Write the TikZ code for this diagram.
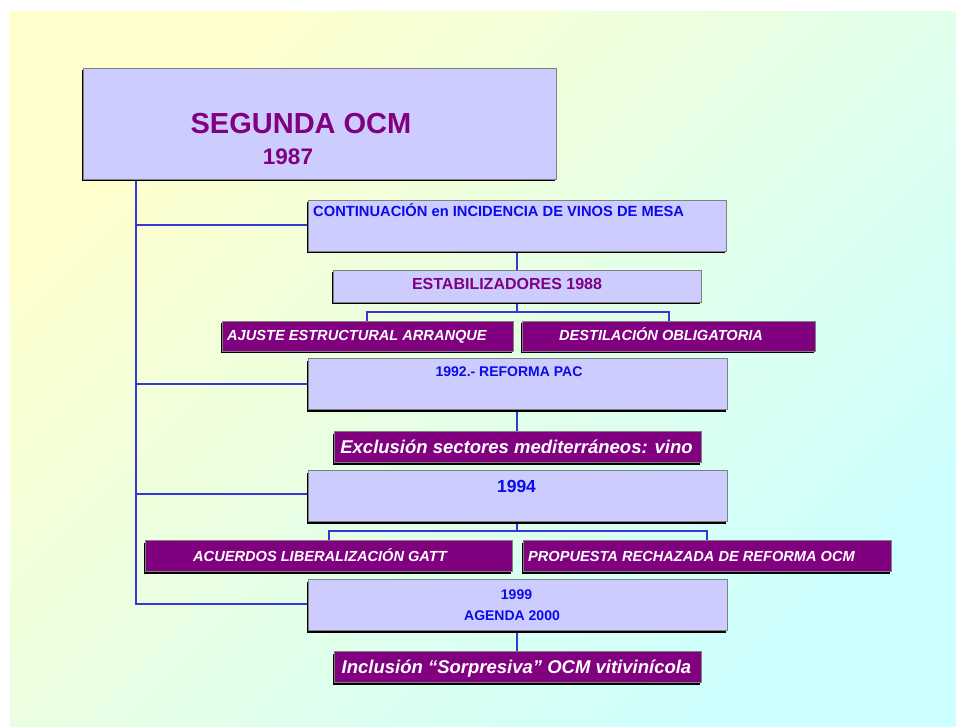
\documentclass[tikz,border=0pt]{standalone}
\usepackage{fontspec}
\setmainfont{Liberation Sans}
\usetikzlibrary{positioning, shadows}

\definecolor{lavbox}{RGB}{204,204,255}
\definecolor{ocmpurple}{RGB}{128,0,128}
\definecolor{ocmblue}{RGB}{10,10,235}
\definecolor{linkblue}{RGB}{55,55,215}
\definecolor{bgyellow}{RGB}{255,255,204}
\definecolor{bgcyan}{RGB}{204,255,255}

\tikzset{
  box/.style={draw=gray, line width=1pt, fill=lavbox, anchor=north west, inner sep=0pt,
    drop shadow={shadow xshift=-2pt, shadow yshift=-2pt, opacity=1, fill=black}},
  pbox/.style={box, fill=ocmpurple},
  link/.style={draw=linkblue, line width=1.4pt},
  bluetxt/.style={text=ocmblue, font=\bfseries\fontsize{14}{16}\selectfont, inner sep=0pt},
  purptxt/.style={text=ocmpurple, font=\bfseries\fontsize{16}{18}\selectfont, inner sep=0pt},
  whitetxt/.style={text=white, font=\bfseries\itshape\fontsize{14.6}{16}\selectfont, inner sep=0pt},
  bigwhite/.style={text=white, font=\bfseries\itshape\fontsize{18.5}{20}\selectfont, inner sep=0pt}
}

\begin{document}
\begin{tikzpicture}[x=1pt, y=-1pt]
  \useasboundingbox (0,0) rectangle (956,727);
  % background
  \shade[top color=bgyellow, bottom color=bgcyan, shading angle=45]
    (10,12) rectangle (956,727);

  % connectors
  \coordinate (trunk) at (136,179);
  \draw[link] (trunk) |- (308,225);
  \draw[link] (trunk) |- (308,384);
  \draw[link] (trunk) |- (308,494);
  \draw[link] (trunk) |- (308,604);
  \draw[link] (517,251) -- (517,270);
  \draw[link] (517,302) -- (517,312) coordinate (fork1) -| (367,321);
  \draw[link] (fork1) -| (669,321);
  \draw[link] (517,409) -- (517,431);
  \draw[link] (517,521) -- (517,531) coordinate (fork2) -| (329,540);
  \draw[link] (fork2) -| (707,540);
  \draw[link] (517,630) -- (517,651);

  % boxes
  \node[box, minimum width=473pt, minimum height=111pt] (main) at (83,68) {};
  \node[box, minimum width=418pt, minimum height=51pt] (cont) at (308,200) {};
  \node[box, minimum width=368pt, minimum height=32pt] (estab) at (333,270) {};
  \node[pbox, minimum width=291pt, minimum height=30pt] (ajuste) at (222,321) {};
  \node[pbox, minimum width=293pt, minimum height=30pt] (destil) at (522,321) {};
  \node[box, minimum width=419pt, minimum height=51pt] (reforma) at (308,358) {};
  \node[pbox, minimum width=367pt, minimum height=31pt] (exclu) at (334,431) {};
  \node[box, minimum width=419pt, minimum height=51pt] (y94) at (308,470) {};
  \node[pbox, minimum width=367pt, minimum height=31pt] (acuerdos) at (145,540) {};
  \node[pbox, minimum width=368pt, minimum height=31pt] (propuesta) at (523,540) {};
  \node[box, minimum width=419pt, minimum height=51pt] (agenda) at (308,579) {};
  \node[pbox, minimum width=367pt, minimum height=31pt] (inclu) at (334,651) {};

  % texts
  \node[purptxt, font=\bfseries\fontsize{29}{32}\selectfont, anchor=base] (title) at (301,134) {SEGUNDA OCM};
  \node[purptxt, font=\bfseries\fontsize{22.5}{25}\selectfont, anchor=base] (year) at (288,165) {1987};
  \node[bluetxt, font=\bfseries\fontsize{14.7}{16}\selectfont, anchor=base west] (contxt) at (313,217) {CONTINUACIÓN en INCIDENCIA DE VINOS DE MESA};
  \node[purptxt, anchor=base] (estabtxt) at (507,290) {ESTABILIZADORES 1988};
  \node[whitetxt, anchor=base west] (ajustetxt) at (227,341) {AJUSTE ESTRUCTURAL ARRANQUE};
  \node[whitetxt, anchor=base] (destiltxt) at (661,341) {DESTILACIÓN OBLIGATORIA};
  \node[bluetxt, anchor=base] (reformatxt) at (509,377) {1992.- REFORMA PAC};
  \node[bigwhite, anchor=base] (exclutxt) at (516.5,453) {Exclusión sectores mediterráneos: vino};
  \node[bluetxt, font=\bfseries\fontsize{17.5}{20}\selectfont, anchor=base] (y94txt) at (516.5,492) {1994};
  \node[whitetxt, anchor=base] (acuerdostxt) at (320,561) {ACUERDOS LIBERALIZACIÓN GATT};
  \node[whitetxt, anchor=base west] (propuestatxt) at (528,561) {PROPUESTA RECHAZADA DE REFORMA OCM};
  \node[bluetxt, anchor=base] (y99txt) at (516.5,599) {1999};
  \node[bluetxt, anchor=base] (agendatxt) at (512,620) {AGENDA 2000};
  \node[bigwhite, anchor=base] (inclutxt) at (516.5,673) {Inclusión “Sorpresiva” OCM vitivinícola};
\end{tikzpicture}
\end{document}
